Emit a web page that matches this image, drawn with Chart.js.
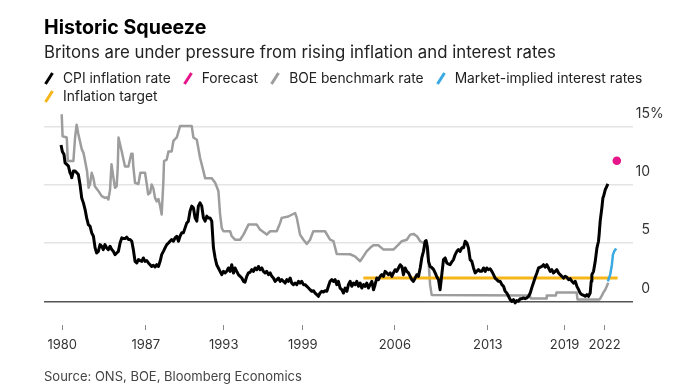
<!DOCTYPE html>
<html><head><meta charset="utf-8">
<script src="https://cdn.jsdelivr.net/npm/chart.js@4.4.1/dist/chart.umd.min.js"></script>
<style>
html,body{margin:0;padding:0;background:#fff;}
#wrap{position:relative;width:692px;height:388px;overflow:hidden;font-family:Inter,'Liberation Sans',Arial,sans-serif;}
canvas{position:absolute;left:0;top:0;}
#title{position:absolute;left:44px;top:18.2px;font-weight:700;font-size:19.6px;line-height:19.5px;color:#000;white-space:nowrap;}
#subtitle{position:absolute;left:44px;top:43.8px;font-size:16.8px;line-height:16.8px;color:#222;white-space:nowrap;}
#legend{position:absolute;left:44px;top:69.2px;width:612px;display:flex;flex-wrap:wrap;column-gap:12px;font-size:13.8px;line-height:18px;color:#222;}
.item{display:flex;align-items:center;white-space:nowrap;}
.mk{width:10px;height:13px;margin-right:9px;flex:none;}
#source{position:absolute;left:44px;top:369.5px;font-size:13px;line-height:13px;color:#444;white-space:nowrap;}
</style></head>
<body>
<div id="wrap">
<canvas id="c" width="692" height="388"></canvas>
<div id="title">Historic Squeeze</div>
<div id="subtitle">Britons are under pressure from rising inflation and interest rates</div>
<div id="legend"></div>
<div id="source">Source: ONS, BOE, Bloomberg Economics</div>
</div>
<script>
// ---- data (decimal years, percent) ----
const cpiDates = [1980.50,1980.60,1980.73,1980.81,1980.94,1981.07,1981.19,1981.27,1981.32,1981.45,1981.58,1981.71,1981.83,1981.96,1982.09,1982.22,1982.35,1982.47,1982.60,1982.73,1982.86,1982.99,1983.12,1983.24,1983.37,1983.50,1983.63,1983.75,1983.88,1984.01,1984.14,1984.27,1984.40,1984.52,1984.65,1984.78,1984.91,1985.04,1985.17,1985.29,1985.42,1985.55,1985.68,1985.81,1985.94,1986.06,1986.19,1986.32,1986.45,1986.58,1986.71,1986.83,1986.96,1987.09,1987.22,1987.35,1987.47,1987.60,1987.73,1987.86,1987.99,1988.12,1988.24,1988.37,1988.50,1988.63,1988.76,1988.88,1989.01,1989.14,1989.27,1989.40,1989.53,1989.65,1989.78,1989.91,1990.04,1990.17,1990.29,1990.42,1990.55,1990.68,1990.81,1990.94,1991.06,1991.19,1991.32,1991.45,1991.58,1991.71,1991.83,1991.96,1992.09,1992.22,1992.35,1992.47,1992.60,1992.73,1992.86,1992.99,1993.12,1993.24,1993.37,1993.50,1993.63,1993.76,1993.88,1994.01,1994.14,1994.27,1994.40,1994.53,1994.65,1994.78,1994.91,1995.04,1995.17,1995.30,1995.42,1995.55,1995.68,1995.81,1995.94,1996.06,1996.19,1996.32,1996.45,1996.58,1996.71,1996.83,1996.96,1997.09,1997.22,1997.35,1997.47,1997.60,1997.73,1997.86,1997.99,1998.12,1998.24,1998.37,1998.50,1998.63,1998.76,1998.88,1999.01,1999.14,1999.27,1999.40,1999.53,1999.65,1999.78,1999.91,2000.04,2000.17,2000.29,2000.42,2000.55,2000.68,2000.81,2000.94,2001.06,2001.19,2001.32,2001.45,2001.58,2001.71,2001.83,2001.96,2002.09,2002.22,2002.35,2002.48,2002.60,2002.73,2002.86,2002.99,2003.12,2003.24,2003.37,2003.50,2003.63,2003.76,2003.89,2004.01,2004.14,2004.27,2004.40,2004.53,2004.65,2004.78,2004.91,2005.04,2005.17,2005.30,2005.42,2005.55,2005.68,2005.81,2005.94,2006.06,2006.19,2006.32,2006.45,2006.58,2006.71,2006.83,2006.96,2007.09,2007.22,2007.35,2007.47,2007.60,2007.73,2007.86,2007.99,2008.12,2008.24,2008.37,2008.50,2008.58,2008.68,2008.76,2008.88,2009.01,2009.14,2009.27,2009.40,2009.53,2009.65,2009.78,2009.91,2010.04,2010.17,2010.30,2010.42,2010.55,2010.68,2010.81,2010.94,2011.06,2011.19,2011.32,2011.45,2011.58,2011.71,2011.83,2011.96,2012.09,2012.22,2012.35,2012.47,2012.60,2012.73,2012.86,2012.99,2013.12,2013.24,2013.37,2013.50,2013.63,2013.76,2013.88,2014.01,2014.14,2014.27,2014.40,2014.53,2014.65,2014.78,2014.91,2015.04,2015.17,2015.30,2015.42,2015.55,2015.68,2015.81,2015.94,2016.06,2016.19,2016.32,2016.45,2016.58,2016.71,2016.83,2016.96,2017.09,2017.22,2017.35,2017.47,2017.60,2017.73,2017.86,2017.99,2018.12,2018.24,2018.37,2018.50,2018.63,2018.76,2018.88,2019.01,2019.14,2019.27,2019.40,2019.53,2019.65,2019.78,2019.91,2020.04,2020.17,2020.30,2020.42,2020.55,2020.68,2020.81,2020.94,2021.06,2021.19,2021.27,2021.32,2021.45,2021.58,2021.71,2021.83,2021.88,2021.96,2022.09,2022.17,2022.22,2022.35,2022.47,2022.55];
const cpiValues = [13.45,12.90,12.64,11.92,11.78,11.64,11.06,10.90,10.63,11.21,11.21,11.06,10.92,10.05,8.90,8.47,7.90,7.18,6.60,6.46,5.89,5.60,4.60,4.16,4.30,4.88,4.74,4.45,4.88,4.60,4.45,4.74,4.45,4.30,4.02,4.16,4.30,5.02,5.46,5.40,5.40,5.52,5.32,5.32,5.17,4.45,3.44,3.30,3.59,3.50,3.44,3.73,3.44,3.50,3.30,3.15,3.00,3.10,2.95,3.15,3.00,3.44,4.02,4.30,4.60,4.88,5.02,5.17,5.32,5.17,5.46,5.60,5.17,5.60,5.89,5.89,6.32,6.75,6.90,7.76,8.19,8.05,7.18,6.90,8.19,8.47,8.19,7.18,6.90,7.33,7.18,7.18,6.90,4.60,3.73,3.15,2.87,2.58,2.29,2.58,2.44,2.58,2.87,2.58,3.15,2.44,2.87,2.58,2.29,2.15,2.00,1.72,1.65,2.15,2.45,2.50,2.72,2.58,2.87,2.72,3.00,2.72,2.87,2.58,2.44,2.58,2.29,2.44,2.15,2.00,1.72,1.86,2.00,1.72,1.86,1.72,1.57,1.86,1.72,2.00,1.57,1.43,1.57,1.43,1.72,1.57,1.72,1.43,1.43,1.29,1.14,1.00,0.86,0.91,0.71,0.57,0.43,0.71,0.86,0.80,0.91,0.86,1.29,1.72,1.86,1.72,1.86,1.43,1.72,1.14,1.00,0.71,1.14,0.86,1.43,1.72,1.29,1.57,1.43,1.72,1.29,1.57,1.14,1.43,1.29,1.57,1.14,1.43,1.72,1.00,1.43,2.00,1.86,2.15,2.29,2.15,2.58,2.44,2.29,2.44,2.15,2.44,2.72,2.58,2.87,3.15,3.00,2.29,2.87,2.58,2.44,2.15,1.86,1.72,2.00,2.29,2.15,2.87,3.73,4.30,5.17,5.22,4.60,3.44,3.00,2.90,2.75,2.44,2.10,1.86,1.00,2.29,3.59,3.73,3.30,3.20,3.15,3.40,3.59,4.02,4.30,4.45,4.30,4.60,4.60,5.17,5.02,4.60,3.59,3.44,2.87,2.44,2.58,2.72,2.58,2.58,2.87,2.58,2.87,2.72,2.80,2.58,2.29,2.00,1.86,1.72,1.72,1.43,1.29,0.86,0.71,0.43,0.14,0.00,0.14,-0.14,0.06,0.00,0.23,0.23,0.29,0.23,0.29,0.43,0.71,1.20,1.60,2.05,2.44,2.87,2.93,3.00,3.15,2.93,3.15,2.87,2.58,2.72,2.44,2.58,2.72,2.44,2.29,2.15,2.00,2.15,2.06,1.86,1.95,1.72,1.57,1.72,1.29,1.00,0.71,0.57,0.52,0.43,0.57,0.43,0.71,1.72,2.29,2.58,3.44,4.60,5.17,5.75,6.90,8.05,8.90,9.04,9.61,9.90,10.10];

const boeDates = [1980.55,1980.62,1980.94,1981.02,1981.45,1981.58,1981.70,1981.83,1982.09,1982.22,1982.35,1982.50,1982.62,1982.73,1982.86,1982.99,1983.10,1983.37,1983.63,1983.88,1984.01,1984.14,1984.27,1984.38,1984.52,1984.65,1984.78,1984.86,1984.92,1985.04,1985.17,1985.30,1985.42,1985.68,1985.90,1986.00,1986.06,1986.19,1986.45,1986.60,1986.96,1987.09,1987.20,1987.35,1987.47,1987.60,1987.73,1987.86,1987.99,1988.12,1988.24,1988.37,1988.42,1988.63,1988.76,1989.01,1989.14,1989.40,1989.65,1990.55,1990.68,1990.94,1991.19,1991.45,1991.58,1992.09,1992.35,1992.60,1992.73,1992.86,1992.99,1993.50,1993.63,1993.88,1994.27,1994.53,1994.78,1994.91,1995.55,1995.80,1996.32,1996.58,1997.09,1997.35,1997.47,1997.98,1998.50,1998.63,1998.88,1999.14,1999.40,1999.65,1999.90,2000.80,2001.19,2001.45,2001.70,2002.73,2003.10,2003.50,2003.75,2004.00,2004.27,2004.52,2004.90,2005.30,2006.06,2006.45,2006.70,2007.09,2007.35,2007.60,2007.87,2008.12,2008.58,2008.76,2008.88,2009.00,2016.55,2016.62,2017.80,2017.85,2018.55,2018.60,2020.15,2020.22,2021.90,2021.97,2022.10,2022.20,2022.35,2022.45,2022.58];
const boeValues = [16.10,14.20,14.10,12.07,12.07,14.10,15.20,14.40,13.10,12.80,12.07,11.20,9.77,10.10,11.06,10.60,9.90,9.50,9.05,8.90,8.95,8.76,9.60,11.80,10.70,9.77,9.90,11.50,14.10,13.50,12.90,12.20,11.60,11.60,12.70,12.70,11.60,10.20,10.10,11.06,11.06,10.10,9.20,9.34,10.05,9.70,8.90,8.60,8.80,8.20,7.47,10.30,12.07,12.20,12.90,12.90,13.80,14.10,15.08,15.08,14.10,13.90,12.35,11.20,10.60,10.60,10.20,9.50,7.50,6.30,6.03,6.03,5.60,5.30,5.30,5.74,6.30,6.60,6.60,6.17,5.74,6.03,6.03,6.75,7.18,7.30,7.60,7.18,5.74,5.30,4.94,5.30,6.03,6.03,5.30,5.17,4.08,4.05,3.87,3.45,3.87,4.30,4.60,4.82,4.82,4.45,4.45,4.88,5.17,5.30,5.74,5.80,5.60,5.17,4.88,3.45,1.43,0.55,0.50,0.25,0.25,0.50,0.50,0.75,0.75,0.15,0.15,0.25,0.50,0.75,1.00,1.25,1.60];

const marketDates = [2022.55,2022.73,2022.86,2022.94,2023.04,2023.19];
const marketValues = [1.72,2.29,3.15,4.02,4.30,4.54];

const forecastDates = [2023.24];
const forecastValues = [12.1];

const targetDates = [2003.75,2023.30];
const targetValues = [2,2];

const xTickDates = [1980.59,1987.02,1993.01,1999.09,2006.17,2013.32,2019.22,2022.30];
const xTickLabels = ['1980','1987','1993','1999','2006','2013','2019','2022'];
const yTickValues = [0,5,10,15];

// ---- helpers ----
const pts = (xs, ys) => xs.map((x, i) => ({x: x, y: ys[i]}));
const FONT = "Inter, 'Liberation Sans', Arial, sans-serif";

const pctPlugin = {
  id: 'pct',
  afterDraw(chart) {
    const s = chart.scales.y, ctx = chart.ctx;
    const top = yTickValues[yTickValues.length - 1];
    ctx.save();
    ctx.font = '14px ' + FONT;
    ctx.fillStyle = '#333';
    ctx.textAlign = 'left';
    ctx.textBaseline = 'middle';
    ctx.fillText('%', s.right, s.getPixelForValue(top) + s.options.ticks.labelOffset);
    ctx.restore();
  }
};

const chart = new Chart(document.getElementById('c'), {
  type: 'line',
  data: {
    datasets: [
      {label: 'CPI inflation rate', data: pts(cpiDates, cpiValues), borderColor: '#000000', borderWidth: 3, order: 2},
      {label: 'Forecast', type: 'scatter', data: pts(forecastDates, forecastValues), borderColor: '#e6168a', backgroundColor: '#e6168a', pointRadius: 4.3, borderWidth: 0, showLine: false, order: 0},
      {label: 'BOE benchmark rate', data: pts(boeDates, boeValues), borderColor: '#9d9d9d', borderWidth: 2.5, order: 4},
      {label: 'Market-implied interest rates', data: pts(marketDates, marketValues), borderColor: '#3aa9e1', borderWidth: 2.5, order: 1},
      {label: 'Inflation target', data: pts(targetDates, targetValues), borderColor: '#f6b519', borderWidth: 3, order: 3}
    ]
  },
  options: {
    responsive: false,
    animation: false,
    events: [],
    layout: {padding: {left: 44, right: 42, top: 109.6, bottom: 0}},
    elements: {
      line: {tension: 0, borderJoinStyle: 'round', borderCapStyle: 'butt', fill: false},
      point: {radius: 0, hoverRadius: 0}
    },
    plugins: {legend: {display: false}, tooltip: {enabled: false}, title: {display: false}},
    scales: {
      x: {
        type: 'linear', min: 1979.19, max: 2024.52,
        afterBuildTicks: s => { s.ticks = xTickDates.map(v => ({value: v})); },
        afterFit: s => { s.height = 63; },
        grid: {display: true, drawOnChartArea: false, drawTicks: true, tickLength: 5, color: '#8a8a8a', lineWidth: 1},
        border: {display: false},
        ticks: {autoSkip: false, maxRotation: 0, padding: 7, color: '#333', font: {family: FONT, size: 13},
                callback: (v, i) => xTickLabels[i]}
      },
      y: {
        type: 'linear', position: 'right', min: -2.04, max: 16.5,
        afterBuildTicks: s => { s.ticks = yTickValues.map(v => ({value: v})); },
        grid: {drawTicks: false, lineWidth: 1.5,
               color: c => (c.tick && c.tick.value === 0) ? '#555555' : '#e4e4e4'},
        border: {display: false},
        ticks: {padding: 1, crossAlign: 'far', labelOffset: -13, color: '#333', font: {family: FONT, size: 14},
                callback: v => String(v)}
      }
    }
  },
  plugins: [pctPlugin]
});

// ---- legend built from the chart's datasets ----
const legendEl = document.getElementById('legend');
chart.data.datasets.forEach(ds => {
  const item = document.createElement('div');
  item.className = 'item';
  const ns = 'http://www.w3.org/2000/svg';
  const svg = document.createElementNS(ns, 'svg');
  svg.setAttribute('class', 'mk');
  svg.setAttribute('width', '10'); svg.setAttribute('height', '13');
  const ln = document.createElementNS(ns, 'line');
  ln.setAttribute('x1', '1.5'); ln.setAttribute('y1', '12');
  ln.setAttribute('x2', '8.5'); ln.setAttribute('y2', '1');
  ln.setAttribute('stroke', ds.borderColor);
  ln.setAttribute('stroke-width', '3');
  svg.appendChild(ln);
  const tx = document.createElement('span');
  tx.textContent = ds.label;
  item.appendChild(svg); item.appendChild(tx);
  legendEl.appendChild(item);
});
</script>
</body></html>
